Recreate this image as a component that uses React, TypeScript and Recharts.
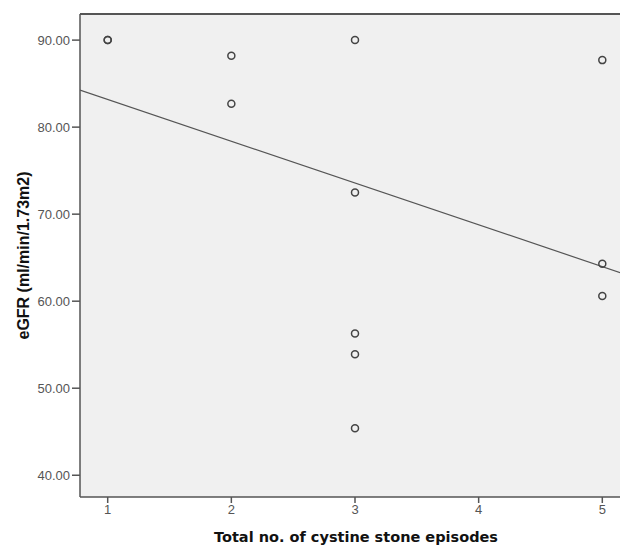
import { ComposedChart, Scatter, Line, XAxis, YAxis, CartesianGrid, ReferenceLine, Label } from 'recharts';

// stone episodes vs eGFR
const episodes = [1, 1, 2, 2, 3, 3, 3, 3, 3, 5, 5, 5];
const egfr = [90.0, 90.0, 88.2, 82.7, 90.0, 72.5, 56.3, 53.9, 45.4, 87.7, 64.3, 60.6];

// fit line end points (at the x-axis limits)
const fitX = [0.776, 5.224];
const fitY = [84.25, 62.9];

const xTicks = [1, 2, 3, 4, 5];
const yTicks = [40, 50, 60, 70, 80, 90];

const points = episodes.map((x, i) => ({ x, y: egfr[i] }));
const fitLine = fitX.map((x, i) => ({ x, y: fitY[i] }));

const axisColor = '#555';
const font = '"Liberation Sans", Arial, sans-serif';

const Ring = (props: any) => {
  const { cx, cy } = props;
  if (cx == null || cy == null) return null;
  return <circle cx={cx} cy={cy} r={3.5} fill="none" stroke="#444" strokeWidth={1.5} />;
};

export default function App() {
  return (
    <div style={{ position: 'absolute', left: 0, top: 0, width: 620, height: 545, overflow: 'hidden', background: '#fff' }}>
      <ComposedChart width={640} height={545} margin={{ top: 14, right: 10, bottom: 0, left: 0 }}>
        <CartesianGrid fill="#f0f0f0" horizontal={false} vertical={false} />
        <XAxis
          type="number"
          dataKey="x"
          domain={[fitX[0], fitX[1]]}
          ticks={xTicks}
          allowDataOverflow
          height={48}
          stroke={axisColor}
          strokeWidth={1.5}
          tickSize={6}
          tick={{ fill: '#555', fontSize: 13, fontFamily: font }}
        >
          <Label
            content={(p: any) => {
              const vb = p.viewBox;
              return (
                <text x={356} y={vb.y + 45} textAnchor="middle" fontFamily='"DejaVu Sans", Verdana, sans-serif' fontSize={14.5} fontWeight="bold" fill="#111">
                  Total no. of cystine stone episodes
                </text>
              );
            }}
          />
        </XAxis>
        <YAxis
          type="number"
          dataKey="y"
          domain={[37.5, 93]}
          ticks={yTicks}
          allowDataOverflow
          width={80}
          stroke={axisColor}
          strokeWidth={1.5}
          tickSize={8}
          tickFormatter={(v: number) => v.toFixed(2)}
          tick={{ fill: '#555', fontSize: 13, fontFamily: font }}
        >
          <Label
            content={(p: any) => {
              const vb = p.viewBox;
              const cx = 23;
              const cy = vb.y + vb.height / 2;
              return (
                <text
                  x={cx}
                  y={cy}
                  transform={`rotate(-90 ${cx} ${cy})`}
                  textAnchor="middle"
                  dominantBaseline="central"
                  fontFamily={font}
                  fontSize={16}
                  fontWeight="bold"
                  fill="#111"
                >
                  eGFR (ml/min/1.73m2)
                </text>
              );
            }}
          />
        </YAxis>
        <ReferenceLine y={93} stroke={axisColor} strokeWidth={2} />
        <Line data={fitLine} dataKey="y" stroke="#555" strokeWidth={1.2} dot={false} isAnimationActive={false} />
        <Scatter data={points} dataKey="y" shape={<Ring />} isAnimationActive={false} />
      </ComposedChart>
    </div>
  );
}
